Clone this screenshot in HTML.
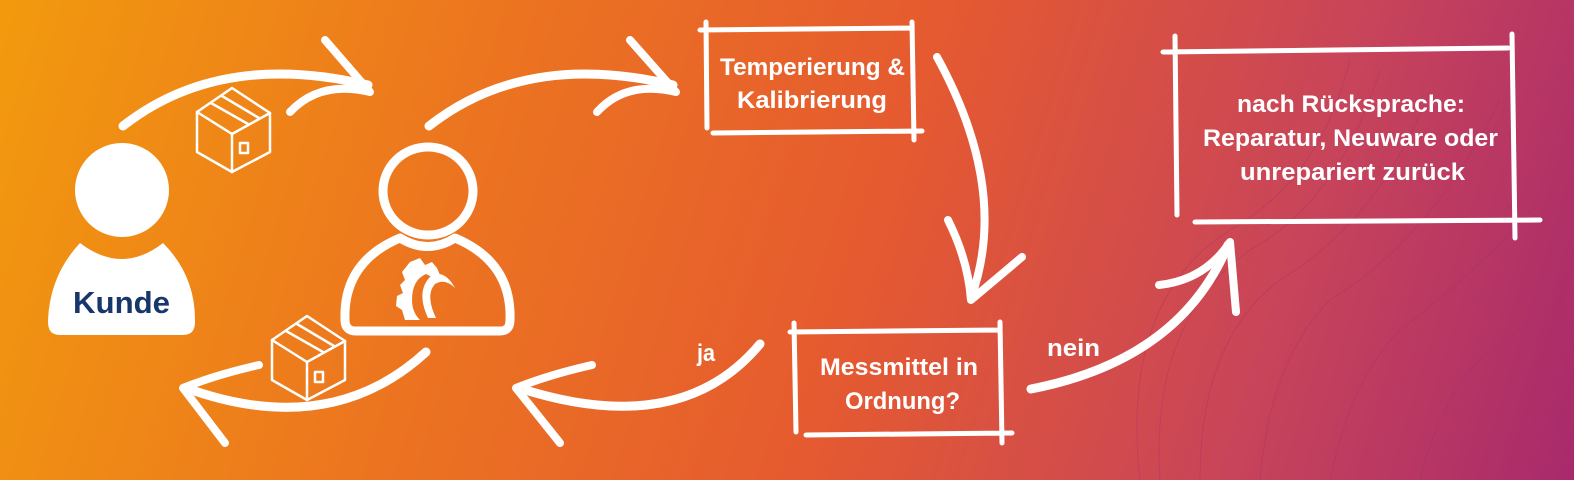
<!DOCTYPE html>
<html><head><meta charset="utf-8"><style>
html,body{margin:0;padding:0;width:1574px;height:480px;overflow:hidden}
svg{display:block}
text{font-family:"Liberation Sans",sans-serif;font-weight:bold;fill:#fff}
</style></head><body>
<svg width="1574" height="480" viewBox="0 0 1574 480" xmlns="http://www.w3.org/2000/svg">
<defs>
<linearGradient id="bg" x1="0" y1="0" x2="1574" y2="480" gradientUnits="userSpaceOnUse">
<stop offset="0" stop-color="#f29a0e"/>
<stop offset="0.3" stop-color="#ec7420"/>
<stop offset="0.55" stop-color="#e55a30"/>
<stop offset="0.8" stop-color="#c8445a"/>
<stop offset="1" stop-color="#a82a6c"/>
</linearGradient>
</defs>
<rect width="1574" height="480" fill="url(#bg)"/>
<g stroke="#a0306a" stroke-width="1" fill="none" opacity="0.35">
<path d="M1140 480 Q1120 300 1230 230 Q1320 180 1350 60"/>
<path d="M1160 480 Q1150 320 1250 250 Q1340 200 1380 70"/>
<path d="M1200 480 Q1200 340 1280 280 Q1380 220 1430 90"/>
<path d="M1260 480 Q1270 360 1330 300 Q1430 240 1500 100"/>
<path d="M1330 480 Q1350 380 1400 330 Q1480 270 1540 200"/>
<path d="M1420 480 Q1440 400 1480 360 Q1530 320 1574 290"/>
</g>
<g fill="none" stroke="#fff" stroke-linecap="round" stroke-linejoin="round">
<path d="M123 126 Q220 50 368 85" stroke-width="9"/>
<path d="M325 40 L370 92 Q320 80 290 112" stroke-width="8"/>
<path d="M429 126 Q526 50 673 85" stroke-width="9"/>
<path d="M630 40 L676 92 Q626 80 597 112" stroke-width="8"/>
<path d="M426 352 Q330 440 186 388" stroke-width="9"/>
<path d="M259 365 Q215 375 183 388 L225 443" stroke-width="8"/>
<path d="M760 344 Q680 440 519 388" stroke-width="9"/>
<path d="M592 365 Q548 375 516 388 L560 443" stroke-width="8"/>
<path d="M937 57 Q1010 190 971 298" stroke-width="8"/>
<path d="M948 220 Q968 260 971 300 L1022 257" stroke-width="8"/>
<path d="M1031 389 Q1180 360 1228 245" stroke-width="9"/>
<path d="M1159 285 Q1205 280 1230 242 L1236 312" stroke-width="8"/>
<ellipse cx="428" cy="191" rx="45" ry="44" stroke-width="9"/>
<path d="M400 238 Q343 262 345 320 Q345 331 356 331 L500 331 Q510 331 510 320 Q512 262 455 238 Q428 255 400 238 Z" stroke-width="9"/>
<g stroke-width="2.5">
<path d="M197 112 L232 88 L270 113 L270 152 L232 172 L197 152 Z"/>
<path d="M197 112 L232 134 L270 113 M232 134 L232 172 M211 103 L248 124 M222 96 L259 118"/>
<rect x="240" y="143" width="8" height="10"/>
<path d="M272 340 L307 316 L345 341 L345 380 L307 400 L272 380 Z"/>
<path d="M272 340 L307 362 L345 341 M307 362 L307 400 M286 331 L323 352 M297 324 L334 346"/>
<rect x="315" y="372" width="8" height="10"/>
</g>
<g stroke-width="5">
<path d="M700 30 L910 28 M713 133 L922 131 M706 22 L707 128 M912 22 L914 140"/>
<path d="M790 332 L1000 330 M806 435 L1012 433 M794 323 L796 432 M1000 322 L1002 443"/>
<path d="M1163 52 L1508 48 M1195 222 L1540 220 M1175 36 L1177 215 M1512 34 L1515 238"/>
</g>
</g>
<ellipse cx="122" cy="190" rx="47" ry="47" fill="#fff"/>
<path d="M80 243 Q122 275 163 243 Q195 275 195 320 L195 322 Q195 335 183 335 L60 335 Q48 335 48 322 L48 320 Q50 275 80 243 Z" fill="#fff"/>
<text x="73" y="313" font-size="31" textLength="97" lengthAdjust="spacingAndGlyphs" style="fill:#17366a">Kunde</text>
<g fill="#fff">
<path d="M410 262 L420 258 L425 265 L432 262 L437 268 L440 275 L434 278 L426 274 Q412 280 412 300 Q412 312 420 320 L405 320 L402 310 L396 306 L397 296 L403 293 L400 285 L405 280 L402 272 Z"/>
<path d="M428 318 Q415 290 432 275 Q445 270 455 288 Q445 278 435 284 Q425 295 436 318 Z"/>
</g>
<g font-size="24">
<text x="720" y="75" textLength="185" lengthAdjust="spacingAndGlyphs">Temperierung &amp;</text>
<text x="737" y="108" textLength="150" lengthAdjust="spacingAndGlyphs">Kalibrierung</text>
<text x="820" y="375" textLength="158" lengthAdjust="spacingAndGlyphs">Messmittel in</text>
<text x="845" y="409" textLength="115" lengthAdjust="spacingAndGlyphs">Ordnung?</text>
<text x="697" y="361" textLength="18" lengthAdjust="spacingAndGlyphs">ja</text>
<text x="1047" y="356" textLength="53" lengthAdjust="spacingAndGlyphs">nein</text>
<text x="1237" y="112" textLength="228" lengthAdjust="spacingAndGlyphs">nach Rücksprache:</text>
<text x="1203" y="146" textLength="295" lengthAdjust="spacingAndGlyphs">Reparatur, Neuware oder</text>
<text x="1240" y="180" textLength="225" lengthAdjust="spacingAndGlyphs">unrepariert zurück</text>
</g>
</svg>
</body></html>
